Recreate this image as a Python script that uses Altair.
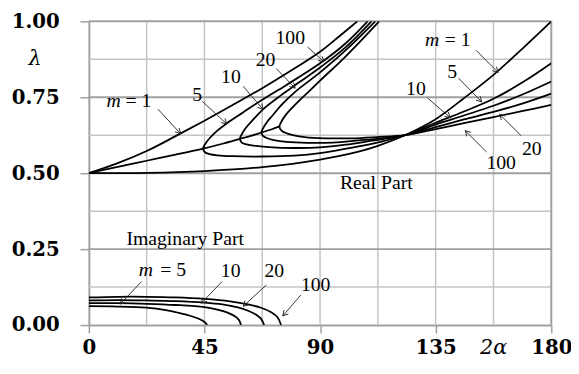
import math
import altair as alt
import pandas as pd

# ---------------- data ----------------
# Real part, m = 1 : two real roots
m1_upper_x = [0, 11.25, 22.5, 33.75, 45, 56.25, 67.5, 78.75, 90, 97.5, 104.5]
m1_upper_y = [0.5, 0.533, 0.573, 0.622, 0.673, 0.726, 0.78, 0.838, 0.9, 0.951, 1.0]
m1_lower_x = [0, 22.5, 45, 67.5, 90, 105, 112.5, 123, 135, 146, 157.5, 169, 180]
m1_lower_y = [0.5, 0.501, 0.507, 0.52, 0.545, 0.571, 0.59, 0.625, 0.678, 0.747, 0.824, 0.912, 1.0]

# Real part of the complex pair (common to all m before branching)
cplx_x = [0, 11.25, 22.5, 33.75, 44.5, 52, 58.8, 63, 67.2, 71, 74.2]
cplx_y = [0.5, 0.521, 0.541, 0.561, 0.581, 0.597, 0.613, 0.623, 0.634, 0.644, 0.654]

# m = 5
m5_up_x = [44.5, 45.2, 47, 50, 53.5, 60, 67.5, 76.8, 90, 100, 108.5]
m5_up_y = [0.581, 0.595, 0.615, 0.64, 0.663, 0.70, 0.742, 0.79, 0.862, 0.928, 1.0]
m5_lo_x = [44.5, 45.2, 47, 50, 56, 67.5, 80, 90, 105, 114, 123, 135, 146, 157.5, 169, 180]
m5_lo_y = [0.581, 0.569, 0.563, 0.559, 0.556, 0.555, 0.558, 0.566, 0.588, 0.604, 0.625, 0.666, 0.703, 0.745, 0.80, 0.862]
# m = 10
m10_up_x = [58.8, 59.5, 61, 63.5, 68, 75, 82, 90, 100, 110]
m10_up_y = [0.613, 0.628, 0.648, 0.672, 0.712, 0.758, 0.80, 0.848, 0.915, 1.0]
m10_lo_x = [58.8, 59.5, 61, 64, 70, 80, 90, 100, 110, 123, 135, 146, 157.5, 169, 180]
m10_lo_y = [0.613, 0.601, 0.596, 0.591, 0.586, 0.583, 0.585, 0.594, 0.607, 0.625, 0.660, 0.69, 0.722, 0.76, 0.802]
# m = 20
m20_up_x = [67.2, 67.9, 69.3, 71.5, 75, 80.3, 90, 100, 111.5]
m20_up_y = [0.634, 0.649, 0.668, 0.69, 0.725, 0.768, 0.832, 0.905, 1.0]
m20_lo_x = [67.2, 67.9, 69.5, 72, 77, 85, 95, 105, 114, 123, 135, 146, 157.5, 169, 180]
m20_lo_y = [0.634, 0.622, 0.615, 0.609, 0.603, 0.600, 0.601, 0.608, 0.615, 0.625, 0.652, 0.677, 0.702, 0.73, 0.762]
# m = 100
m100_up_x = [74.2, 74.9, 76.3, 78.5, 82, 86, 90, 100, 113]
m100_up_y = [0.654, 0.669, 0.688, 0.71, 0.74, 0.772, 0.805, 0.885, 1.0]
m100_lo_x = [74.2, 74.9, 76.5, 79, 84, 92, 102, 112, 123, 135, 146, 157.5, 169, 180]
m100_lo_y = [0.654, 0.641, 0.633, 0.626, 0.619, 0.615, 0.615, 0.619, 0.625, 0.645, 0.665, 0.685, 0.705, 0.725]

# Imaginary parts
im5_x = [0, 11.25, 22.5, 30, 35, 40, 43, 45, 46]
im5_y = [0.062, 0.061, 0.057, 0.049, 0.040, 0.029, 0.020, 0.010, 0.0]
im10_x = [0, 11.25, 22.5, 33.75, 45, 50, 54, 57, 58.5, 59.2]
im10_y = [0.072, 0.072, 0.070, 0.066, 0.059, 0.051, 0.041, 0.028, 0.016, 0.0]
im20_x = [0, 11.25, 22.5, 33.75, 45, 52, 58, 62, 65, 67, 68.2]
im20_y = [0.081, 0.082, 0.081, 0.079, 0.074, 0.068, 0.058, 0.047, 0.035, 0.021, 0.0]
im100_x = [0, 11.25, 22.5, 33.75, 45, 55, 62, 67, 71, 73.5, 74.8]
im100_y = [0.091, 0.093, 0.093, 0.091, 0.086, 0.078, 0.068, 0.057, 0.042, 0.025, 0.0]

# annotation arrows: start (x, y) -> tip (x, y)
arrow_x1 = [26.9, 44.1, 60.1, 72.9, 85.1, 150.7, 143.9, 131.8, 168.2, 154.8, 20.5, 51.8, 69.1, 82.5]
arrow_y1 = [0.711, 0.737, 0.786, 0.845, 0.916, 0.905, 0.813, 0.748, 0.624, 0.570, 0.143, 0.143, 0.132, 0.099]
arrow_x2 = [35.7, 53.7, 67.8, 80.3, 91.5, 159.3, 152.9, 140.7, 159.9, 146.5, 12.2, 43.8, 60.1, 75.5]
arrow_y2 = [0.630, 0.662, 0.710, 0.780, 0.867, 0.832, 0.735, 0.683, 0.694, 0.640, 0.069, 0.072, 0.062, 0.030]

# labels (upright)
label_text = ["= 1", "5", "10", "20", "100", "= 1", "5", "10", "20", "100",
              "Real  Part", "Imaginary  Part", "= 5", "10", "20", "100"]
label_x = [19.3, 42.2, 55.3, 68.8, 78.4, 143.6, 141.4, 127.3, 172.4, 160.5,
           111.9, 37.5, 32.8, 55.2, 72.2, 88.3]
label_y = [0.737, 0.758, 0.816, 0.873, 0.945, 0.937, 0.834, 0.778, 0.578, 0.534,
           0.467, 0.282, 0.180, 0.177, 0.177, 0.132]
# italic "m"
ital_text = ["m", "m", "m"]
ital_x = [9.6, 133.6, 22.2]
ital_y = [0.737, 0.937, 0.180]

grid_minor_x = [22.5, 45, 67.5, 90, 112.5, 135, 157.5]
grid_border_x = [180]
grid_minor_y = [0.125, 0.375, 0.625, 0.875]
grid_major_y = [0.25, 0.5, 0.75, 1.0]
x_ticks = [0, 45, 90, 135, 180]
y_ticks = [0, 0.25, 0.5, 0.75, 1.0]

# ---------------- tables ----------------
rows = []


def add(name, xs, ys):
    for i, (a, b) in enumerate(zip(xs, ys)):
        rows.append({"s": name, "o": i, "x": a, "y": b})


def add_branch(name, upx, upy, lox, loy):
    add(name, list(reversed(upx)) + lox[1:], list(reversed(upy)) + loy[1:])


add("m1u", m1_upper_x, m1_upper_y)
add("m1l", m1_lower_x, m1_lower_y)
add("cplx", cplx_x, cplx_y)
add_branch("m5", m5_up_x, m5_up_y, m5_lo_x, m5_lo_y)
add_branch("m10", m10_up_x, m10_up_y, m10_lo_x, m10_lo_y)
add_branch("m20", m20_up_x, m20_up_y, m20_lo_x, m20_lo_y)
add_branch("m100", m100_up_x, m100_up_y, m100_lo_x, m100_lo_y)
add("i5", im5_x, im5_y)
add("i10", im10_x, im10_y)
add("i20", im20_x, im20_y)
add("i100", im100_x, im100_y)
curves = pd.DataFrame(rows)

W, H = 469, 308
angs = []
for a, b, c, d in zip(arrow_x1, arrow_y1, arrow_x2, arrow_y2):
    dxp = (c - a) * W / 180.0
    dyp = -(d - b) * H / 1.0
    angs.append(math.degrees(math.atan2(dyp, dxp)) % 360)
arrows = pd.DataFrame({"x": arrow_x1, "y": arrow_y1, "x2": arrow_x2, "y2": arrow_y2, "ang": angs})
labels = pd.DataFrame({"t": label_text, "x": label_x, "y": label_y})
italics = pd.DataFrame({"t": ital_text, "x": ital_x, "y": ital_y})

FONT = "Liberation Serif"
TICKFONT = "DejaVu Serif"
LIGHT = "#c4c4c4"
DARK = "#a0a0a0"

xs = alt.Scale(domain=[0, 180], nice=False, zero=False)
ys = alt.Scale(domain=[0, 1], nice=False, zero=False)
AX = alt.Axis(
    values=x_ticks, format="d", grid=False, title="2α",
    titleX=410, titleY=23, titleAlign="center", titleBaseline="middle", titleAnchor="start",
    labelPadding=5, tickSize=8, labelFlush=False, labelOverlap=False)
AY = alt.Axis(
    values=y_ticks, format=".2f", grid=False, title="λ", titleAngle=0,
    titleX=-55, titleY=38, titleAlign="center", titleBaseline="middle", titleAnchor="start",
    labelPadding=21, tickSize=9, labelFlush=False, labelOverlap=False)


def X(f):
    return alt.X(f, type="quantitative", scale=xs, axis=AX)


def Y(f):
    return alt.Y(f, type="quantitative", scale=ys, axis=AY)


g_minor_x = alt.Chart(pd.DataFrame({"v": grid_minor_x})).mark_rule(color=LIGHT, strokeWidth=1.5).encode(x=X("v"))
g_border_x = alt.Chart(pd.DataFrame({"v": grid_border_x})).mark_rule(color=DARK, strokeWidth=2).encode(x=X("v"))
g_minor_y = alt.Chart(pd.DataFrame({"v": grid_minor_y})).mark_rule(color=LIGHT, strokeWidth=1.5).encode(y=Y("v"))
g_major_y = alt.Chart(pd.DataFrame({"v": grid_major_y})).mark_rule(color=DARK, strokeWidth=2).encode(y=Y("v"))

lines = alt.Chart(curves).mark_line(color="black", strokeWidth=1.8, interpolate="catmull-rom", clip=True).encode(
    x=X("x"), y=Y("y"), detail="s:N", order="o:Q")

arrow_lines = alt.Chart(arrows).mark_rule(color="#222222", strokeWidth=0.9).encode(
    x=X("x"), y=Y("y"), x2="x2:Q", y2="y2:Q")
arrow_heads = alt.Chart(arrows).mark_point(
    shape="M-1,-0.55L0,0L-1,0.55", filled=False, stroke="#222222", strokeWidth=0.9, size=110, opacity=1
).encode(x=X("x2"), y=Y("y2"), angle=alt.Angle("ang:Q", scale=None))

txt = alt.Chart(labels).mark_text(font=FONT, fontSize=20, color="black", align="center", baseline="middle").encode(
    x=X("x"), y=Y("y"), text="t:N")
itxt = alt.Chart(italics).mark_text(font=FONT, fontSize=20, fontStyle="italic", color="black",
                                    align="center", baseline="middle").encode(
    x=X("x"), y=Y("y"), text="t:N")

chart = alt.layer(g_minor_x, g_minor_y, g_major_y, g_border_x, lines, arrow_lines, arrow_heads, txt, itxt).properties(
    width=W, height=H,
    autosize=alt.AutoSizeParams(type="none"),
    padding={"left": 82, "top": 11, "right": 20, "bottom": 40},
    background="white",
).configure_view(strokeWidth=0).configure_axis(
    labelFont=TICKFONT, labelFontSize=20, labelFontWeight="bold", labelColor="black",
    titleFont="DejaVu Serif", titleFontSize=21, titleFontWeight="normal", titleFontStyle="italic", titleColor="black",
    tickColor=DARK, tickWidth=1.5, domainColor=DARK, domainWidth=2,
)

chart.save("out.html", embed_options={"renderer": "svg", "actions": False})
